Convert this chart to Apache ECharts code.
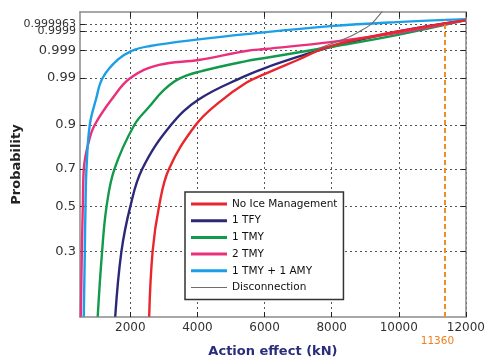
<!DOCTYPE html>
<html><head><meta charset="utf-8">
<script src="https://cdn.jsdelivr.net/npm/echarts@6/dist/echarts.min.js"></script>
<style>html,body{margin:0;padding:0;background:#fff}#c{width:488px;height:363px}</style>
</head><body><div id="c"></div>
<script>
// ---- data ----
const probTicks = [0.3, 0.5, 0.7, 0.9, 0.99, 0.999, 0.9999];
const probTickLabels = ['0.3', '0.5', '0.7', '0.9', '0.99', '0.999', '0.9999'];
const extraTick = 0.999963;
const extraTickLabel = '0.999963';
const xTicks = [2000, 4000, 6000, 8000, 10000, 12000];
const xMin = 500, xMax = 12000;
const seriesNames = ['No Ice Management', '1 TFY', '1 TMY', '2 TMY', '1 TMY + 1 AMY', 'Disconnection'];

const noIceX = [2561, 2664, 2856, 3151, 3947, 4626, 5452, 6012, 6986, 7959, 9936, 12000];
const noIceP = [0.127, 0.3, 0.5, 0.7, 0.9, 0.959, 0.9863, 0.9925, 0.99755, 0.99938, 0.99989, 0.99998];

const tfyX = [1549, 1735, 2000, 2354, 3210, 4036, 5363, 6012, 6986, 7959, 9936, 12000];
const tfyP = [0.127, 0.3, 0.5, 0.7, 0.9, 0.965, 0.99075, 0.9952, 0.99814, 0.99931, 0.99989, 0.99998];

const tmyX = [1027, 1159, 1292, 1528, 2118, 2561, 3003, 3446, 4036, 5452, 6012, 7959, 9936, 12000];
const tmyP = [0.127, 0.3, 0.5, 0.7, 0.9, 0.9509, 0.9791, 0.98942, 0.99354, 0.9973, 0.99796, 0.99931, 0.99983, 0.99998];

const tmy2X = [525, 555, 584, 613, 761, 938, 1440, 2000, 2856, 4036, 5452, 6012, 7959, 9936, 12000];
const tmy2P = [0.127, 0.3, 0.5, 0.7, 0.835, 0.9, 0.965, 0.99, 0.99626, 0.99755, 0.99896, 0.99915, 0.9996, 0.99987, 0.99998];

const amyX = [613, 643, 664, 693, 791, 975, 1174, 1617, 2059, 2590, 4036, 5452, 7959, 9936, 12000];
const amyP = [0.127, 0.3, 0.5, 0.7, 0.9, 0.965, 0.99, 0.99755, 0.999, 0.99938, 0.99971, 0.99985, 0.99995, 0.999973, 0.999983];

const discX = [7600, 7959, 8461, 8815, 9139, 9346, 9580];
const discP = [0.9992, 0.9995, 0.99976, 0.99989, 0.999957, 0.999986, 0.9999976];

const markerX = 11360;
const markerTopP = 0.99998;
const pBottom = 0.1266, pTop = 0.999995;

// ---- probability (Weibull) scale ----
const f = p => Math.log(-Math.log(1 - p));
const pairs = (xs, ps) => xs.map((x, i) => [x, f(ps[i])]);
const tickT = probTicks.map(f);
const allTickT = tickT.concat([f(extraTick)]);

const colors = ['#e8262b', '#2c2878', '#12994a', '#ea2f7c', '#1c9fe6', '#6f6f6f'];
const widths = [2.4, 2.4, 2.4, 2.4, 2.4, 1.1];
const dataSets = [pairs(noIceX, noIceP), pairs(tfyX, tfyP), pairs(tmyX, tmyP), pairs(tmy2X, tmy2P), pairs(amyX, amyP), pairs(discX, discP)];
const zs = [5, 3, 3, 3, 3, 4];

const FONT = 'DejaVu Sans';
const series = dataSets.map((d, i) => ({
  name: seriesNames[i], type: 'line', data: d, symbol: 'none', smooth: 0.4,
  z: zs[i], lineStyle: {color: colors[i], width: widths[i]}, itemStyle: {color: colors[i]}, clip: true
}));
series.push({
  name: 'marker', type: 'line', data: [], symbol: 'none',
  markLine: {
    symbol: ['none', 'none'], silent: true, animation: false,
    lineStyle: {color: '#f28c28', type: [5, 3], width: 2},
    label: {show: true, position: 'start', formatter: String(markerX), color: '#f07f1e', fontSize: 10.5, fontFamily: FONT, distance: 19, padding: [0, 14, 0, 0]},
    data: [[{coord: [markerX, f(pBottom)]}, {coord: [markerX, f(markerTopP)]}]]
  }
});

const legendData = seriesNames.map((n, i) => ({
  name: n,
  icon: i === 5 ? 'path://M0,0L36,0L36,1L0,1Z' : 'rect',
  itemStyle: {color: colors[i]}
}));

const gridLine = {show: true, lineStyle: {color: '#555', type: [2, 3], width: 1}};
const axisLineStyle = {show: true, onZero: false, lineStyle: {color: '#8a8a8a', width: 1.5}};
const chart = echarts.init(document.getElementById('c'), null, {renderer: 'canvas'});
chart.setOption({
  animation: false,
  backgroundColor: '#fff',
  grid: {left: 80, right: 18, top: 12, bottom: 45, containLabel: false},
  xAxis: [{
    type: 'value', min: xMin, max: xMax,
    name: 'Action effect (kN)', nameLocation: 'middle', nameGap: 28,
    nameTextStyle: {fontFamily: FONT, fontWeight: 'bold', fontSize: 13, color: '#2a2c7c'},
    axisLine: axisLineStyle,
    axisTick: {show: true, inside: true, length: 5, customValues: xTicks, lineStyle: {color: '#222'}},
    axisLabel: {customValues: xTicks, margin: 5, hideOverlap: false, fontFamily: FONT, fontSize: 12, color: '#333', formatter: v => String(v)},
    splitLine: gridLine
  }, {
    type: 'value', min: xMin, max: xMax, position: 'top',
    axisLine: axisLineStyle,
    axisTick: {show: true, inside: true, length: 5, customValues: xTicks, lineStyle: {color: '#222'}},
    axisLabel: {show: false}, splitLine: {show: false}
  }],
  yAxis: [{
    type: 'value', min: f(pBottom), max: f(pTop),
    name: 'Probability', nameLocation: 'middle', nameGap: 57,
    nameTextStyle: {fontFamily: FONT, fontWeight: 'bold', fontSize: 13, color: '#222'},
    axisLine: axisLineStyle,
    axisTick: {show: true, inside: true, length: 5, customValues: allTickT, lineStyle: {color: '#222'}},
    axisLabel: {
      customValues: tickT, margin: 4, hideOverlap: false,
      fontFamily: FONT, fontSize: 13, color: '#333',
      formatter: v => {
        let best = 0;
        tickT.forEach((t, i) => { if (Math.abs(t - v) < Math.abs(tickT[best] - v)) best = i; });
        return best >= 6 ? '{s|' + probTickLabels[best] + '}' : probTickLabels[best];
      },
      rich: {s: {fontFamily: FONT, fontSize: 11, color: '#333'}}
    },
    splitLine: gridLine
  }, {
    type: 'value', min: f(pBottom), max: f(pTop), position: 'right',
    axisLine: axisLineStyle,
    axisTick: {show: true, inside: true, length: 5, customValues: allTickT, lineStyle: {color: '#222'}},
    axisLabel: {show: false}, splitLine: {show: false}
  }, {
    type: 'value', min: f(pBottom), max: f(pTop), position: 'left', offset: 0,
    axisLine: {show: false}, axisTick: {show: false}, splitLine: {show: false},
    axisLabel: {customValues: [f(extraTick)], margin: 4, hideOverlap: false, fontFamily: FONT, fontSize: 11, color: '#333', formatter: () => extraTickLabel}
  }],
  legend: {
    orient: 'vertical', left: 185, top: 192, padding: [6, 6, 6, 6],
    itemWidth: 36, itemHeight: 3, itemGap: 4.7,
    borderColor: '#333', borderWidth: 1.5, backgroundColor: '#fff',
    textStyle: {fontFamily: FONT, fontSize: 10.5, lineHeight: 12, color: '#111'},
    data: legendData
  },
  series: series
});
</script>
</body></html>
